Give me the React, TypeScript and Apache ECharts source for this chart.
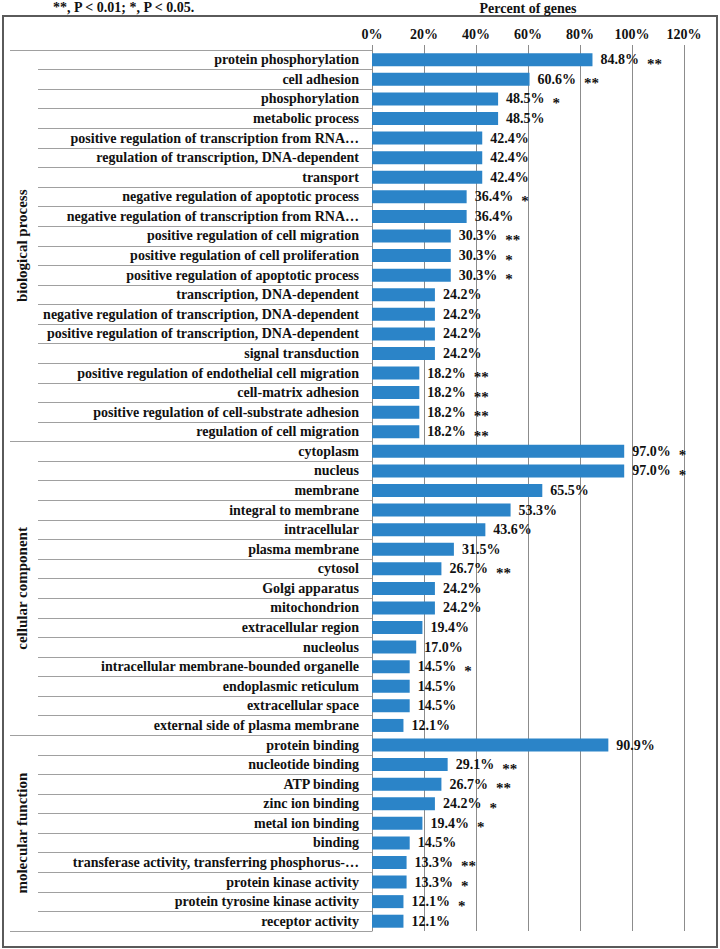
import { useEffect, useRef } from "react";
import * as echarts from "echarts";

const bpCategories = [
  "protein phosphorylation",
  "cell adhesion",
  "phosphorylation",
  "metabolic process",
  "positive regulation of transcription from RNA…",
  "regulation of transcription, DNA-dependent",
  "transport",
  "negative regulation of apoptotic process",
  "negative regulation of transcription from RNA…",
  "positive regulation of cell migration",
  "positive regulation of cell proliferation",
  "positive regulation of apoptotic process",
  "transcription, DNA-dependent",
  "negative regulation of transcription, DNA-dependent",
  "positive regulation of transcription, DNA-dependent",
  "signal transduction",
  "positive regulation of endothelial cell migration",
  "cell-matrix adhesion",
  "positive regulation of cell-substrate adhesion",
  "regulation of cell migration",
];
const bpValues = [84.8, 60.6, 48.5, 48.5, 42.4, 42.4, 42.4, 36.4, 36.4, 30.3, 30.3, 30.3, 24.2, 24.2, 24.2, 24.2, 18.2, 18.2, 18.2, 18.2];
const bpStars = ["**", "**", "*", "", "", "", "", "*", "", "**", "*", "*", "", "", "", "", "**", "**", "**", "**"];

const ccCategories = [
  "cytoplasm",
  "nucleus",
  "membrane",
  "integral to membrane",
  "intracellular",
  "plasma membrane",
  "cytosol",
  "Golgi apparatus",
  "mitochondrion",
  "extracellular region",
  "nucleolus",
  "intracellular membrane-bounded organelle",
  "endoplasmic reticulum",
  "extracellular space",
  "external side of plasma membrane",
];
const ccValues = [97.0, 97.0, 65.5, 53.3, 43.6, 31.5, 26.7, 24.2, 24.2, 19.4, 17.0, 14.5, 14.5, 14.5, 12.1];
const ccStars = ["*", "*", "", "", "", "", "**", "", "", "", "", "*", "", "", ""];

const mfCategories = [
  "protein binding",
  "nucleotide binding",
  "ATP binding",
  "zinc ion binding",
  "metal ion binding",
  "binding",
  "transferase activity, transferring phosphorus-…",
  "protein kinase activity",
  "protein tyrosine kinase activity",
  "receptor activity",
];
const mfValues = [90.9, 29.1, 26.7, 24.2, 19.4, 14.5, 13.3, 13.3, 12.1, 12.1];
const mfStars = ["", "**", "**", "*", "*", "", "**", "*", "*", ""];

const groupNames = ["biological process", "cellular component", "molecular function"];
const headerNote = "**, P < 0.01; *, P < 0.05.";
const xAxisTitle = "Percent of genes";
const xMin = 0;
const xMax = 120;
const xStep = 20;

const FONT = "'Liberation Serif', 'Times New Roman', serif";

export default function App() {
  const ref = useRef<HTMLDivElement>(null);

  useEffect(() => {
    if (!ref.current) return;
    const chart = echarts.init(ref.current, null, { renderer: "svg" });

    const categories = [...bpCategories, ...ccCategories, ...mfCategories];
    const values = [...bpValues, ...ccValues, ...mfValues];
    const stars = [...bpStars, ...ccStars, ...mfStars];
    const sizes = [bpCategories.length, ccCategories.length, mfCategories.length];
    const bounds: number[] = [0];
    sizes.forEach((s) => bounds.push(bounds[bounds.length - 1] + s));
    const mids = sizes.map((s, i) => bounds[i] + s / 2);
    const total = bounds[bounds.length - 1];

    const textBase = { fontFamily: FONT, fontWeight: "bold" as const, color: "#111" };

    chart.setOption({
      animation: false,
      title: {
        text: headerNote,
        left: 53,
        top: 0,
        padding: 0,
        textStyle: { ...textBase, fontSize: 14 },
      },
      graphic: [
        {
          type: "rect",
          shape: { x: 3, y: 16, width: 714, height: 931 },
          style: { fill: "none", stroke: "#5a5a5a", lineWidth: 2 },
          silent: true,
        },
      ],
      grid: {
        left: 372,
        right: 36,
        top: 50,
        bottom: 18,
        containLabel: false,
        outerBoundsMode: "none",
      },
      xAxis: {
        type: "value",
        position: "top",
        min: xMin,
        max: xMax,
        interval: xStep,
        name: xAxisTitle,
        nameLocation: "middle",
        nameGap: 42,
        nameTextStyle: { ...textBase, fontSize: 14, verticalAlign: "middle" },
        axisLine: { show: false },
        axisTick: { show: true, length: 5, lineStyle: { color: "#8c8c8c" } },
        axisLabel: { formatter: "{value}%", margin: 9, ...textBase, fontSize: 14 },
        splitLine: { show: true, lineStyle: { color: "#8c8c8c", width: 1 } },
      },
      yAxis: [
        {
          type: "category",
          data: categories,
          inverse: true,
          position: "left",
          axisLine: { show: true, lineStyle: { color: "#8c8c8c" } },
          axisTick: { show: true, interval: 0, length: 334, lineStyle: { color: "#a0a0a0" } },
          axisLabel: { interval: 0, margin: 13, ...textBase, fontSize: 14 },
          splitLine: { show: false },
        },
        {
          type: "value",
          min: 0,
          max: total,
          inverse: true,
          position: "left",
          axisLine: { show: false },
          splitLine: { show: false },
          axisTick: { show: true, customValues: bounds, length: 362, lineStyle: { color: "#a0a0a0" } },
          axisLabel: {
            customValues: mids,
            rotate: 90,
            margin: 343,
            formatter: (v: number) => {
              const i = mids.findIndex((m) => Math.abs(m - v) < 0.01);
              return i >= 0 ? groupNames[i] : "";
            },
            ...textBase,
            fontSize: 15,
          },
        },
      ],
      series: [
        {
          type: "bar",
          yAxisIndex: 0,
          data: values,
          barWidth: 13,
          itemStyle: { color: "#2b84c8" },
          label: {
            show: true,
            position: "right",
            distance: 8,
            formatter: (p: any) => {
              const v = `{v|${Number(p.value).toFixed(1)}%}`;
              const s = stars[p.dataIndex];
              return s ? `${v}{s|${s}}` : v;
            },
            rich: {
              v: { ...textBase, fontSize: 14, lineHeight: 18 },
              s: { ...textBase, fontSize: 15, lineHeight: 18, padding: [8, 0, 0, 8] },
            },
          },
        },
      ],
    });

    return () => chart.dispose();
  }, []);

  return (
    <div
      ref={ref}
      style={{ position: "fixed", left: 0, top: 0, width: 720, height: 949, background: "#fff" }}
    />
  );
}
